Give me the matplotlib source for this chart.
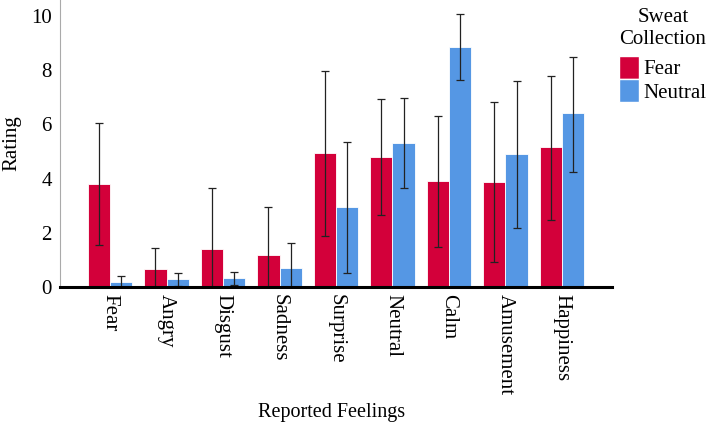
import matplotlib
matplotlib.use('Agg')
import matplotlib.pyplot as plt
import numpy as np
from matplotlib.patches import Patch

plt.rcParams['font.family'] = ['Liberation Serif', 'DejaVu Serif']

# feelings reported, fear sweat vs neutral sweat
feelings = ['Fear', 'Angry', 'Disgust', 'Sadness', 'Surprise', 'Neutral', 'Calm', 'Amusement', 'Happiness']
fearMean = [3.79, 0.65, 1.40, 1.19, 4.94, 4.81, 3.92, 3.89, 5.16]
fearHi = [6.06, 1.43, 3.64, 2.94, 7.98, 6.94, 6.32, 6.84, 7.79]
fearLo = [1.55, -0.1, -0.8, -0.6, 1.88, 2.66, 1.48, 0.91, 2.47]
neutralMean = [0.20, 0.28, 0.32, 0.70, 2.96, 5.32, 8.86, 4.90, 6.41]
neutralHi = [0.41, 0.50, 0.54, 1.63, 5.36, 6.97, 10.06, 7.59, 8.50]
neutralLo = [-0.01, 0.05, 0.08, -0.2, 0.53, 3.65, 7.63, 2.18, 4.25]

red = '#d3003a'
blue = '#5597e4'

W, H = 708, 426
fig = plt.figure(figsize=(W/100, H/100), dpi=100)
ax = fig.add_axes([60/W, 1-287/H, 552/W, 287/H])

x = np.arange(len(feelings))
w = 0.39
fm = np.array(fearMean); nm = np.array(neutralMean)
ax.bar(x - w/2, fm, w, color=red, edgecolor='white', linewidth=0.6, zorder=2)
ax.bar(x + w/2, nm, w, color=blue, edgecolor='white', linewidth=0.6, zorder=2)

ferr = [fm - np.array(fearLo), np.array(fearHi) - fm]
nerr = [nm - np.array(neutralLo), np.array(neutralHi) - nm]
ax.errorbar(x - w/2, fm, yerr=ferr, fmt='none', ecolor='#222222', elinewidth=0.9, capsize=2.6, capthick=0.9, zorder=3)
ax.errorbar(x + w/2, nm, yerr=nerr, fmt='none', ecolor='#222222', elinewidth=0.9, capsize=2.6, capthick=0.9, zorder=3)

ax.set_xlim(-0.885, 8.885)
ax.set_ylim(0, 10.59)
ax.set_yticks([0, 2, 4, 6, 8, 10])
ax.set_xticks(x)
ax.set_xticklabels(feelings, rotation=270, fontsize=15)
ax.tick_params(axis='y', labelsize=15, length=0, pad=6)
ax.tick_params(axis='x', length=0, pad=5)

ax.spines['top'].set_visible(False)
ax.spines['right'].set_visible(False)
ax.spines['left'].set_color('#aaaaaa')
ax.spines['left'].set_linewidth(0.8)
ax.spines['bottom'].set_color('black')
ax.spines['bottom'].set_linewidth(2.2)
ax.spines['bottom'].set_zorder(4)

# axis titles placed by hand so they stay inside the figure
fig.text(12/W, 1-143/H, 'Rating', rotation=90, fontsize=15, ha='center', va='center')
fig.text(332/W, 1-412/H, 'Reported Feelings', fontsize=14.5, ha='center', va='center')

# legend: title drawn separately, centered over the patches
fig.text(663/W, 1-18/H, 'Sweat', fontsize=15, ha='center', va='center')
fig.text(663/W, 1-39/H, 'Collection', fontsize=15, ha='center', va='center')
handles = [Patch(facecolor=red, edgecolor='white'), Patch(facecolor=blue, edgecolor='white')]
leg = fig.legend(handles, ['Fear', 'Neutral'], loc='upper left',
                 bbox_to_anchor=(619/W, 1-56/H), frameon=False,
                 fontsize=15, handlelength=0.95, handleheight=1.3,
                 handletextpad=0.2, labelspacing=0.0, borderpad=0, borderaxespad=0)

fig.savefig('out.png', dpi=100)
